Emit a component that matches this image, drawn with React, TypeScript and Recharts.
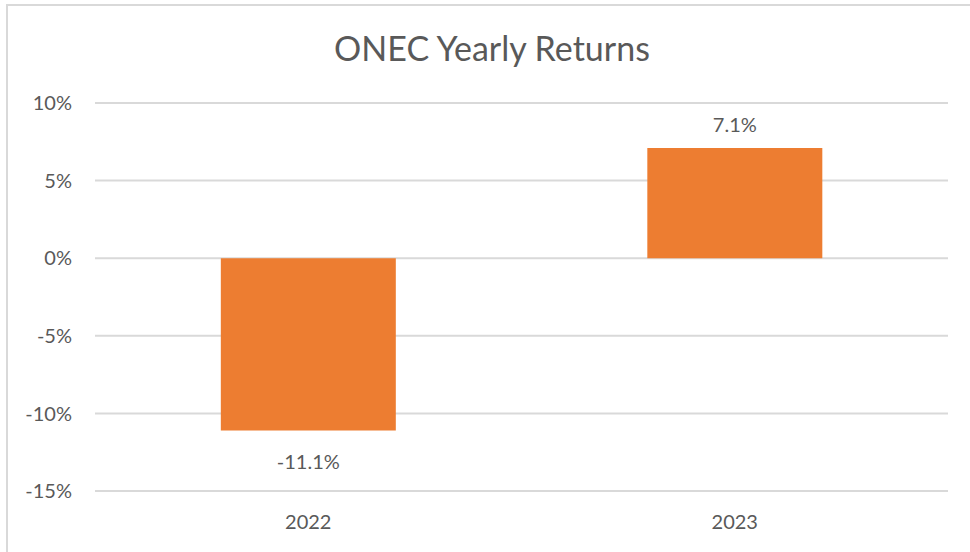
import { BarChart, Bar, XAxis, YAxis, CartesianGrid, LabelList } from "recharts";

const years = ["2022", "2023"];
const returns = [-11.1, 7.1];
const yTicks = [-15, -10, -5, 0, 5, 10];

const data = years.map((year, i) => ({ year, value: returns[i] }));

const FONT = "Lato, 'Open Sans', sans-serif";
const TEXT = "#595959";
const FS = 20;

const renderLabel = (props: any) => {
    const { x, y, width, height, value } = props;
    const top = Math.min(y, y + height);
    const bottom = Math.max(y, y + height);
    const ty = value >= 0 ? top - 24 : bottom + 31;
    return (
        <text
            x={x + width / 2}
            y={ty}
            textAnchor="middle"
            dominantBaseline="central"
            fill={TEXT}
            fontSize={FS}
            fontFamily={FONT}
        >
            {`${Number(value).toFixed(1)}%`}
        </text>
    );
};

export default function App() {
    return (
        <div style={{ position: "absolute", left: 0, top: 0, width: 970, height: 552, background: "#fff", overflow: "hidden" }}>
            <div
                style={{
                    position: "absolute",
                    left: 6,
                    top: 4,
                    width: 990,
                    height: 580,
                    border: "2px solid #d9d9d9",
                    boxSizing: "border-box",
                }}
            />
            <div
                style={{
                    position: "absolute",
                    left: 0,
                    top: 27,
                    width: 984,
                    textAlign: "center",
                    fontFamily: FONT,
                    fontSize: 34,
                    color: TEXT,
                    lineHeight: "42px",
                }}
            >
                ONEC Yearly Returns
            </div>
            <div style={{ position: "absolute", left: 0, top: 0 }}>
                <BarChart
                    width={970}
                    height={552}
                    data={data}
                    margin={{ top: 103, right: 22, bottom: 0, left: 0 }}
                    barCategoryGap="29.5%"
                >
                    <CartesianGrid vertical={false} stroke="#d9d9d9" strokeWidth={2} />
                    <XAxis
                        dataKey="year"
                        axisLine={false}
                        tickLine={false}
                        tickSize={0}
                        tickMargin={24}
                        height={61}
                        tick={{ fill: TEXT, fontSize: FS, fontFamily: FONT }}
                    />
                    <YAxis
                        domain={[-15, 10]}
                        ticks={yTicks}
                        interval={0}
                        axisLine={false}
                        tickLine={false}
                        tickSize={0}
                        tickMargin={23}
                        width={95}
                        tickFormatter={(v: number) => `${v}%`}
                        tick={{ fill: TEXT, fontSize: FS, fontFamily: FONT }}
                    />
                    <Bar dataKey="value" fill="#ED7D31" isAnimationActive={false}>
                        <LabelList dataKey="value" content={renderLabel} />
                    </Bar>
                </BarChart>
            </div>
        </div>
    );
}
